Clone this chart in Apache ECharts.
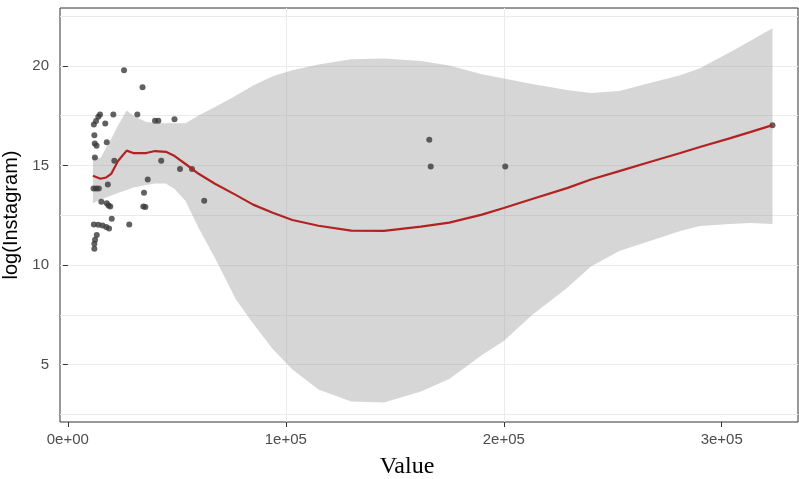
<!DOCTYPE html>
<html lang="en">
<head>
    <meta charset="UTF-8">
    <title>log(Instagram) vs Value</title>
    <script src="https://cdn.jsdelivr.net/npm/echarts@6.0.0/dist/echarts.min.js"></script>
    <style>
        html, body { margin: 0; padding: 0; background: #fff; }
    </style>
</head>
<body>
<div id="main" style="width: 799px;height:479px;"></div>
<script type="text/javascript">
    // raw points: Value vs log(Instagram)
    var valueX = [25780, 34270, 14770, 13990, 20870, 31880, 40000, 41510, 48940, 11930,
        12940, 17160, 12160, 12340, 13170, 17840, 12390, 21330, 42840, 51470,
        56970, 36650, 11790, 13030, 14220, 18350, 34950, 15370, 17840, 18670,
        19450, 34630, 35550, 62570, 20140, 11930, 13990, 15920, 17610, 18900,
        28170, 13260, 12480, 12160, 12160, 165830, 166470, 200690, 323300];
    var logInsta = [19.78, 18.92, 17.56, 17.44, 17.56, 17.56, 17.24, 17.24, 17.31, 17.05,
        17.23, 17.10, 16.51, 16.10, 15.99, 16.16, 15.39, 15.23, 15.23, 14.82,
        14.82, 14.29, 13.84, 13.84, 13.84, 14.04, 13.63, 13.17, 13.10, 12.99,
        12.94, 12.94, 12.91, 13.23, 12.32, 12.03, 12.02, 11.98, 11.91, 11.83,
        12.03, 11.51, 11.27, 11.07, 10.81, 16.29, 14.95, 14.95, 17.02];

    // loess fit and its confidence band
    var smoothX = [11500, 15000, 17500, 20000, 23000, 27000, 30000, 36000, 40000, 45000,
        49000, 54000, 60000, 67500, 77000, 85000, 94000, 103000, 115000, 130000,
        145000, 162000, 175000, 190000, 200000, 213000, 229000, 240000, 253000, 267000,
        281000, 290000, 304000, 313000, 323300];
    var smoothFit = [14.48, 14.33, 14.39, 14.59, 15.22, 15.74, 15.62, 15.62, 15.72, 15.68,
        15.47, 15.07, 14.58, 14.08, 13.52, 13.03, 12.62, 12.26, 11.97, 11.73,
        11.71, 11.93, 12.13, 12.53, 12.86, 13.31, 13.86, 14.29, 14.71, 15.17,
        15.62, 15.92, 16.37, 16.67, 17.02];
    var ciUpper = [15.45, 15.37, 15.87, 16.35, 17.00, 17.75, 17.49, 17.18, 17.13, 17.12,
        17.12, 17.12, 17.50, 17.93, 18.50, 19.01, 19.48, 19.78, 20.06, 20.33,
        20.37, 20.24, 20.01, 19.58, 19.36, 19.08, 18.78, 18.63, 18.73, 19.13,
        19.53, 19.88, 20.69, 21.24, 21.88];
    var ciLower = [13.11, 13.28, 13.39, 13.49, 13.61, 13.76, 13.89, 14.01, 14.09, 14.09,
        13.81, 13.21, 11.86, 10.35, 8.29, 7.06, 5.79, 4.76, 3.75, 3.15,
        3.10, 3.65, 4.28, 5.48, 6.19, 7.49, 8.84, 9.92, 10.70, 11.20,
        11.71, 11.96, 12.06, 12.11, 12.06];

    // axis ranges and labelled breaks
    var xRange = [-3600, 335000];
    var yRange = [2.12, 22.9];
    var xBreaks = [0, 100000, 200000, 300000];
    var yBreaks = [5, 10, 15, 20];

    // "1e+05" style labels like R prints them
    function sciLabel(v) {
        var parts = v.toExponential(0).split('e');
        var exp = parseInt(parts[1], 10);
        var digits = String(Math.abs(exp));
        if (digits.length < 2) digits = '0' + digits;
        return parts[0] + 'e' + (exp < 0 ? '-' : '+') + digits;
    }

    var points = valueX.map(function (x, i) { return [x, logInsta[i]]; });
    var fitLine = smoothX.map(function (x, i) { return [x, smoothFit[i]]; });
    var bandData = smoothX.map(function (x, i) { return [x, ciLower[i], ciUpper[i]]; });

    var gridColor = '#EBEBEB';
    var tickText = {color: '#4D4D4D', fontFamily: 'Liberation Sans', fontSize: 15};

    var myChart = echarts.init(document.getElementById('main'));

    var option = {
        animation: false,
        grid: {
            left: 60, right: 1, top: 8, bottom: 57,
            outerBoundsMode: 'none',
            containLabel: false,
            show: true,
            borderColor: '#333333',
            borderWidth: 1,
            backgroundColor: '#fff'
        },
        xAxis: [{
            type: 'value',
            min: xRange[0],
            max: xRange[1],
            splitNumber: 6,
            name: 'Value',
            nameLocation: 'middle',
            nameGap: 33,
            nameTextStyle: {
                color: '#000', fontFamily: 'Liberation Serif', fontSize: 24,
                padding: [0, 44, 0, 0]
            },
            axisLine: {show: false},
            axisTick: {show: true, customValues: xBreaks, length: 5, lineStyle: {color: '#333333'}},
            axisLabel: Object.assign({customValues: xBreaks, margin: 10, formatter: sciLabel}, tickText),
            splitLine: {show: true, showMinLine: false, showMaxLine: false, lineStyle: {color: gridColor, width: 1}}
        }],
        yAxis: [{
            type: 'value',
            min: yRange[0],
            max: yRange[1],
            splitNumber: 4,
            name: 'log(Instagram)',
            nameLocation: 'middle',
            nameRotate: 90,
            nameGap: 34,
            nameTextStyle: {color: '#000', fontFamily: 'Liberation Sans', fontSize: 20},
            axisLine: {show: false},
            axisTick: {show: true, customValues: yBreaks, length: 5, lineStyle: {color: '#333333'}},
            axisLabel: Object.assign({customValues: yBreaks, margin: 11}, tickText),
            splitLine: {show: true, showMinLine: false, showMaxLine: false, lineStyle: {color: gridColor, width: 1}}
        }, {
            // minor grid (half steps): same range doubled so the nice step lands on 2.5
            type: 'value',
            min: yRange[0] * 2,
            max: yRange[1] * 2,
            splitNumber: 8,
            axisLine: {show: false},
            axisTick: {show: false},
            axisLabel: {show: false},
            splitLine: {show: true, showMinLine: false, showMaxLine: false, lineStyle: {color: gridColor, width: 1}}
        }],
        series: [{
            name: 'points',
            type: 'scatter',
            data: points,
            symbolSize: 6,
            itemStyle: {color: '#3a3a3a'},
            silent: true
        }, {
            // confidence ribbon, one polygon through upper then lower edge
            name: 'ci',
            type: 'custom',
            data: bandData,
            encode: {x: 0, y: [1, 2]},
            silent: true,
            renderItem: function (params, api) {
                if (params.dataIndex !== 0) return null;
                var pts = [];
                var i;
                for (i = 0; i < smoothX.length; i++) {
                    pts.push(api.coord([smoothX[i], ciUpper[i]]));
                }
                for (i = smoothX.length - 1; i >= 0; i--) {
                    pts.push(api.coord([smoothX[i], ciLower[i]]));
                }
                return {
                    type: 'polygon',
                    shape: {points: pts},
                    style: {fill: 'rgba(153,153,153,0.4)', stroke: null}
                };
            }
        }, {
            name: 'loess',
            type: 'line',
            data: fitLine,
            showSymbol: false,
            symbol: 'none',
            lineStyle: {color: '#B22222', width: 2.2},
            silent: true
        }]
    };

    myChart.setOption(option);
</script>
</body>
</html>
